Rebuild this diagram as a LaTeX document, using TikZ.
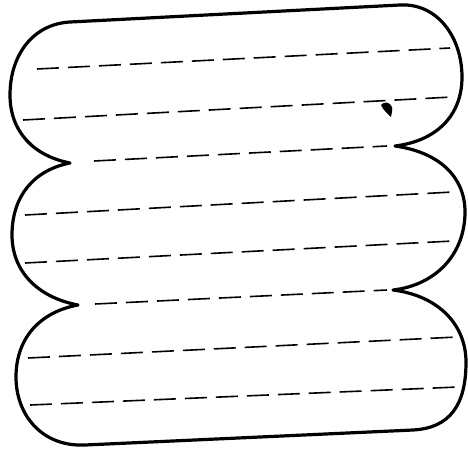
\documentclass[tikz,border=0pt]{standalone}
\begin{document}
\begin{tikzpicture}[x=1pt,y=-1pt,
  outline/.style={line width=3.2pt,line join=round},
  dashline/.style={line width=1.6pt,dash pattern=on 22pt off 9pt}]
\useasboundingbox (0,0) rectangle (468,453);
% outline of the three lobes
\draw[outline] (70,22) -- (400,5)
  .. controls (438,3) and (462,38) .. (462,77)
  .. controls (462,116) and (436,141) .. (395,146)
  .. controls (438,152) and (465,176) .. (465,212)
  .. controls (465,254) and (436,285) .. (393,290)
  .. controls (440,296) and (466,326) .. (466,362)
  .. controls (466,405) and (450,428) .. (413,430)
  -- (85,445)
  .. controls (42,447) and (16,415) .. (16,377)
  .. controls (16,338) and (40,312) .. (78,305)
  .. controls (36,297) and (12,270) .. (12,235)
  .. controls (12,196) and (34,170) .. (70,163)
  .. controls (34,156) and (10,132) .. (10,95)
  .. controls (10,55) and (33,24) .. (70,22) -- cycle;
% dashed lines
\draw[dashline] (37,69) -- (450,48);
\draw[dashline] (23,120) -- (452,97);
\draw[dashline] (94,161) -- (387,146);
\draw[dashline] (25,215) -- (453,192);
\draw[dashline] (25,263) -- (453,241);
\draw[dashline] (95,304) -- (387,290);
\draw[dashline] (28,358) -- (457,337);
\draw[dashline] (30,405) -- (458,387);
% ink spot
\fill (381,105) .. controls (384,101) and (390,102) .. (392,107)
  .. controls (393,111) and (391,114) .. (391,117)
  .. controls (388,114) and (383,110) .. (381,105) -- cycle;
\end{tikzpicture}
\end{document}
